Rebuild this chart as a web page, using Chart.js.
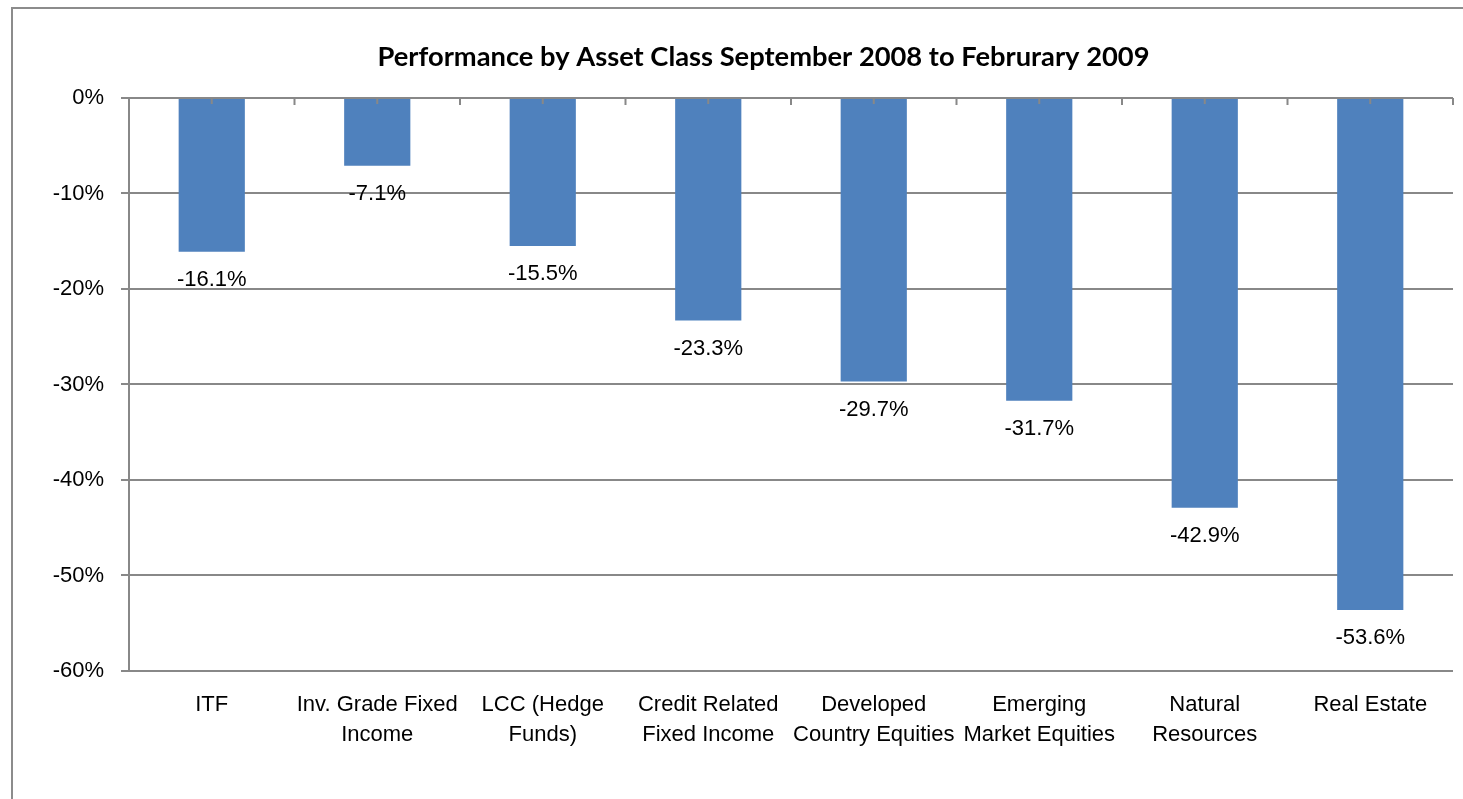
<!DOCTYPE html>
<html>
<head>
<meta charset="utf-8">
<script src="https://cdn.jsdelivr.net/npm/chart.js@4/dist/chart.umd.min.js"></script>
<style>
  html, body { margin: 0; padding: 0; background: #fff; }
  #wrap { position: relative; width: 1463px; height: 799px; overflow: hidden; }
  #frame { position: absolute; left: 11px; top: 7px; width: 2000px; height: 2000px;
           border-left: 2px solid #8c8c8c; border-top: 2px solid #8c8c8c; }
  #chart { position: absolute; left: 0; top: 0; }
</style>
</head>
<body>
<div id="wrap">
  <div id="frame"></div>
  <canvas id="chart" width="1463" height="799"></canvas>
</div>
<script>
const titleText = "Performance by Asset Class September 2008 to Februrary 2009";
const categories = [
  "ITF",
  ["Inv. Grade Fixed", "Income"],
  ["LCC (Hedge", "Funds)"],
  ["Credit Related", "Fixed Income"],
  ["Developed", "Country Equities"],
  ["Emerging", "Market Equities"],
  ["Natural", "Resources"],
  "Real Estate"
];
const returns = [-16.1, -7.1, -15.5, -23.3, -29.7, -31.7, -42.9, -53.6];
const yMin = -60;
const yMax = 0;
const yStep = 10;

const gridColor = "#888888";
const barColor = "#4f81bd";

// the labels in the picture are a narrow sans; use it if the machine has it
const probe = document.createElement("canvas").getContext("2d");
function hasFont(name) {
  probe.font = "40px monospace";
  const a = probe.measureText("Real Estate Wmi 123").width;
  probe.font = '40px "' + name + '", monospace';
  const b = probe.measureText("Real Estate Wmi 123").width;
  return a !== b;
}
const labelFont = hasFont("Liberation Sans Narrow")
  ? { family: '"Liberation Sans Narrow"', size: 26.5, lineHeight: 1.13 }
  : { family: '"Liberation Sans", Arial, sans-serif', size: 22, lineHeight: 1.36 };

const valueLabels = {
  id: "valueLabels",
  afterDatasetsDraw(chart) {
    const ctx = chart.ctx;
    const meta = chart.getDatasetMeta(0);
    ctx.save();
    ctx.fillStyle = "#000";
    ctx.font = labelFont.size + "px " + labelFont.family;
    ctx.textAlign = "center";
    ctx.textBaseline = "middle";
    meta.data.forEach((bar, i) => {
      ctx.fillText(returns[i].toFixed(1) + "%", bar.x, bar.y + 28);
    });
    ctx.restore();
  }
};

// category axis sits on the 0% line with short tick marks hanging down
const zeroAxisTicks = {
  id: "zeroAxisTicks",
  afterDatasetsDraw(chart) {
    const x = chart.scales.x;
    const y0 = chart.scales.y.getPixelForValue(0);
    const step = (x.right - x.left) / categories.length;
    const ctx = chart.ctx;
    ctx.save();
    ctx.strokeStyle = gridColor;
    ctx.lineWidth = 2;
    ctx.beginPath();
    for (let i = 0; i < categories.length; i++) {
      const c = x.getPixelForValue(i);
      ctx.moveTo(c, y0);
      ctx.lineTo(c, y0 + 6);
      const b = c + step / 2;
      ctx.moveTo(b, y0);
      ctx.lineTo(b, y0 + 7);
    }
    ctx.stroke();
    ctx.restore();
  }
};

// the title in the picture sits a little right of the canvas centre
const titleShift = {
  id: "titleShift",
  afterLayout(chart) {
    const t = chart.titleBlock;
    if (t) {
      t.left += 37;
      t.right += 37;
    }
  }
};

new Chart(document.getElementById("chart"), {
  type: "bar",
  data: {
    labels: categories,
    datasets: [{
      data: returns,
      backgroundColor: barColor,
      borderWidth: 0,
      barPercentage: 0.4,
      categoryPercentage: 1
    }]
  },
  options: {
    responsive: false,
    animation: false,
    layout: { padding: { left: 0, right: 10, top: 0, bottom: 0 } },
    plugins: {
      legend: { display: false },
      tooltip: { enabled: false },
      title: {
        display: true,
        text: titleText,
        color: "#000",
        font: { family: "Lato, 'Open Sans', sans-serif", size: 27.3, weight: "bold", lineHeight: 1.2 },
        padding: { top: 40.6, bottom: 24.6 }
      }
    },
    scales: {
      x: {
        grid: { display: false, drawTicks: false, tickLength: 0 },
        border: { display: false },
        ticks: {
          color: "#000",
          padding: 19,
          maxRotation: 0,
          autoSkip: false,
          font: labelFont
        },
        afterFit(scale) { scale.height = 128; }
      },
      y: {
        min: yMin,
        max: yMax,
        grid: { color: gridColor, lineWidth: 2, tickLength: 8 },
        border: { display: true, color: gridColor, width: 2 },
        ticks: {
          stepSize: yStep,
          color: "#000",
          padding: 17,
          font: labelFont,
          callback: v => v + "%"
        },
        afterFit(scale) { scale.width = 129; }
      }
    }
  },
  plugins: [valueLabels, zeroAxisTicks, titleShift]
});
</script>
</body>
</html>
